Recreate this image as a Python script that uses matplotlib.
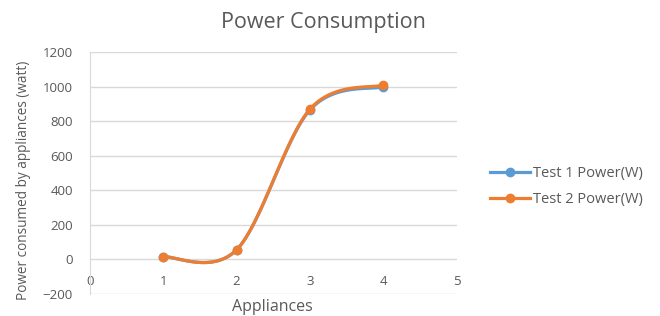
import matplotlib.pyplot as plt
import numpy as np

appliances = [1, 2, 3, 4]
test1_power = [15, 55, 865, 1000]
test2_power = [15, 55, 870, 1010]
series_names = ["Test 1 Power(W)", "Test 2 Power(W)"]
series_colors = ["#5B9BD5", "#ED7D31"]


def smooth(xs, ys, n=40):
    # excel-like smoothed line: cubic bezier with catmull-rom control points
    pts = np.column_stack([xs, ys]).astype(float)
    out = [pts[0]]
    for i in range(len(pts) - 1):
        p0 = pts[i - 1] if i > 0 else pts[i]
        p1 = pts[i]
        p2 = pts[i + 1]
        p3 = pts[i + 2] if i + 2 < len(pts) else pts[i + 1]
        c1 = p1 + (p2 - p0) / 6.0
        c2 = p2 - (p3 - p1) / 6.0
        t = np.linspace(0, 1, n)[1:, None]
        seg = ((1 - t) ** 3 * p1 + 3 * (1 - t) ** 2 * t * c1
               + 3 * (1 - t) * t ** 2 * c2 + t ** 3 * p2)
        out.extend(seg)
    out = np.array(out)
    return out[:, 0], out[:, 1]


plt.rcParams['font.family'] = ['Open Sans', 'DejaVu Sans']
fig = plt.figure(figsize=(6.6, 3.16), dpi=100)
ax = fig.add_axes([0.136, 0.070, 0.556, 0.765])

for ys, name, col in zip([test1_power, test2_power], series_names, series_colors):
    sx, sy = smooth(appliances, ys)
    ax.plot(sx, sy, color=col, lw=2.3, solid_capstyle='round')
    ax.plot(appliances, ys, 'o', color=col, ms=6)
    ax.plot([], [], color=col, lw=2.3, marker='o', ms=6, label=name)

ax.set_xlim(0, 5)
ax.set_ylim(-200, 1200)
ax.set_yticks(range(-200, 1201, 200))
ax.set_xticks(range(0, 6))
ax.grid(axis='y', color='#d9d9d9', lw=1)
ax.set_axisbelow(True)
for s in ['top', 'right', 'bottom']:
    ax.spines[s].set_visible(False)
ax.spines['left'].set_color('#d9d9d9')
ax.spines['bottom'].set_position(('data', 0))
ax.tick_params(length=0, labelsize=9.5, labelcolor='#595959')
ax.tick_params(axis='y', pad=12)
ax.tick_params(axis='x', pad=11)

fig.text(0.49, 0.928, "Power Consumption", fontsize=15.5, color='#595959',
         ha='center', va='center')
fig.text(0.036, 0.43, "Power consumed by appliances (watt)", fontsize=9.8,
         color='#595959', rotation=90, ha='center', va='center')
fig.text(0.412, 0.027, "Appliances", fontsize=11.5, color='#595959',
         ha='center', va='center')

fig.legend(loc='center left', bbox_to_anchor=(0.743, 0.409), frameon=False,
           fontsize=10.5, labelcolor='#595959', handlelength=2.7,
           handletextpad=0.25, labelspacing=0.75, borderpad=0, borderaxespad=0)

fig.savefig("out.png", dpi=100)
